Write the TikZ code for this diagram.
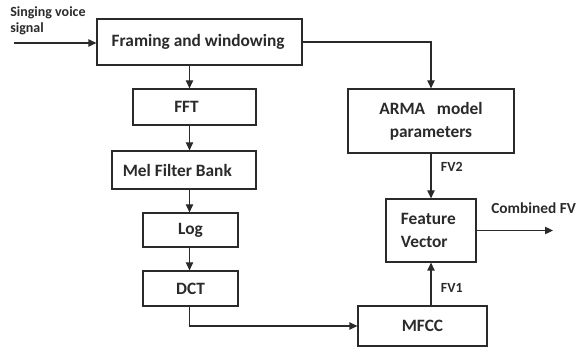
\documentclass[tikz,border=0pt]{standalone}
\usepackage{fontspec}
\setmainfont{Carlito}
\usetikzlibrary{arrows.meta}
\definecolor{ink}{HTML}{2A2A2A}
\begin{document}
\begin{tikzpicture}[x=0.75pt,y=-0.75pt,
  box/.style={draw=ink,line width=0.9pt,rectangle,inner sep=0pt,text=ink,font=\bfseries\fontsize{13}{17}\selectfont,align=center},
  arr/.style={draw=ink,line width=0.9pt,-{Triangle[length=6pt,width=5.5pt]}},
  lbl/.style={text=ink,font=\bfseries\fontsize{10.5}{12}\selectfont,inner sep=0pt}]
\useasboundingbox (0,0) rectangle (581,348);
\node[box,minimum width=153.75pt,minimum height=34.5pt] (frame) at (199.5,42) {Framing and windowing\hspace*{2pt}};
\node[box,minimum width=92.25pt,minimum height=27pt] (fft) at (194.5,107) {FFT\hspace*{12pt}};
\node[box,minimum width=108pt,minimum height=28.5pt] (mel) at (184,170) {Mel Filter Bank\hspace*{10pt}};
\node[box,minimum width=71.25pt,minimum height=25.5pt] (log) at (190.5,230) {Log};
\node[box,minimum width=71.25pt,minimum height=26.25pt] (dct) at (190.5,288.5) {DCT};
\node[box,minimum width=96.75pt,minimum height=30pt] (mfcc) at (422.5,326) {MFCC};
\node[box,minimum width=67.5pt,minimum height=47.25pt,align=left] (fv) at (431,230.5) {Feature\hspace*{4pt}\\Vector};
\node[box,minimum width=124.5pt,minimum height=48pt] (arma) at (431,121) {ARMA\ \ \ model\\parameters};
\coordinate (colx) at (189.5,0);
\coordinate (in) at (14,43);
\coordinate (out) at (553,230.5);
\node[lbl,anchor=north west,align=left] (sv) at (10,6) {Singing voice\\signal};
\draw[arr] (in) -- (frame.west |- in);
\draw[arr] (frame.south -| colx) -- (fft.north -| colx);
\draw[arr] (fft.south -| colx) -- (mel.north -| colx);
\draw[arr] (mel.south -| colx) -- (log.north -| colx);
\draw[arr] (log.south -| colx) -- (dct.north -| colx);
\draw[arr] (dct.south -| colx) |- (mfcc.west);
\draw[arr] (frame.east) -| (arma.north);
\draw[arr] (arma.south) -- node[lbl,anchor=west,pos=0.3,xshift=7pt] (fv2) {FV2} (fv.north);
\draw[arr] (mfcc.north -| fv.south) -- node[lbl,anchor=west,pos=0.4,xshift=7pt] (fv1) {FV1} (fv.south);
\draw[arr] (fv.east |- out) -- (out);
\node[lbl,anchor=west,font=\bfseries\fontsize{11.5}{13}\selectfont] (comb) at (491,208) {Combined FV};
\end{tikzpicture}
\end{document}
